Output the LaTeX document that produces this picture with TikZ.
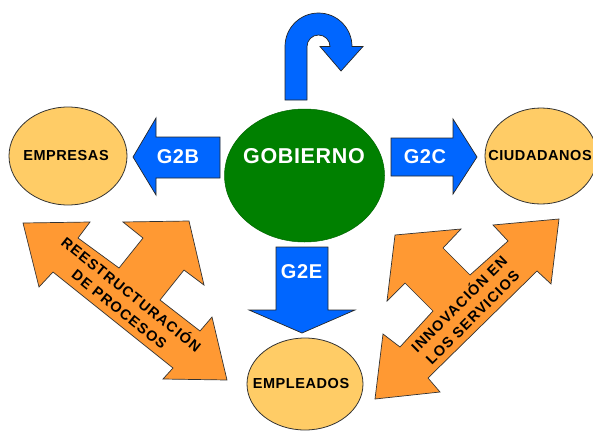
\documentclass[tikz,border=0pt]{standalone}
\usepackage{fontspec}
\setmainfont{Liberation Sans}
\newfontfamily\spacedA[LetterSpace=4]{Liberation Sans}
\newfontfamily\spacedB[LetterSpace=8]{Liberation Sans}
\newfontfamily\spacedC[LetterSpace=3]{Liberation Sans}
\usetikzlibrary{shapes.geometric}
\begin{document}
\begin{tikzpicture}[x=1pt,y=-1pt,
  ov/.style={ellipse, draw=black!80, line width=0.8pt, fill=ovfill, inner sep=0pt},
  blk/.style={font=\spacedA\bfseries\fontsize{14.5}{16}\selectfont, text=black},
  barrow/.style={draw=black!85, line width=0.7pt, fill=arblue, line join=miter},
  oarrow/.style={draw=black!80, line width=0.7pt, fill=arorange, line join=miter},
  wlab/.style={font=\spacedC\bfseries\fontsize{20}{22}\selectfont, text=white},
  dlab/.style={font=\spacedB\bfseries\fontsize{14.5}{19}\selectfont, text=black, align=center}]
\definecolor{ovfill}{RGB}{255,204,102}
\definecolor{arblue}{RGB}{0,102,255}
\definecolor{arorange}{RGB}{255,153,51}
\definecolor{gov}{RGB}{0,128,0}
\useasboundingbox (0,0) rectangle (593,431);
% ellipses
\node[ov, minimum width=118pt, minimum height=98pt] (emp) at (68,156) {};
\node[blk] at (66,156) (emptxt) {EMPRESAS};
\node[ov, minimum width=112pt, minimum height=96pt] (ciu) at (541,156) {};
\node[blk] at (540,156) (ciutxt) {CIUDADANOS};
\node[ov, minimum width=116pt, minimum height=92pt] (empl) at (305,384) {};
\node[blk] at (301,384) (empltxt) {EMPLEADOS};
\node[ellipse, fill=gov, draw=gov!80!black, line width=0.5pt, minimum width=160pt, minimum height=133pt, inner sep=0pt] (gob) at (304.5,175.5) {};
\node[font=\spacedC\bfseries\fontsize{21.5}{23}\selectfont, text=white] at (304,156.5) (gobtxt) {GOBIERNO};
% U-turn arrow
\draw[barrow] (285,100) -- (285,46.5) arc[start angle=180, end angle=360, radius=33.5]
  -- (363,46.5) -- (341,71) -- (320,46.5) -- (330,46.5)
  arc[start angle=360, end angle=180, radius=11.5] -- (307,100) -- cycle;
% G2B
\draw[barrow] (133,157) -- (156,118) -- (156,137) -- (220,137) -- (220,178) -- (156,178) -- (156,195) -- cycle;
\node[wlab] at (178,157) (g2b) {G2B};
% G2C
\draw[barrow] (391,138) -- (453,138) -- (453,119) -- (477,157) -- (453,194) -- (453,176) -- (391,176) -- cycle;
\node[wlab] at (425,157) (g2c) {G2C};
% G2E
\draw[barrow] (276,247) -- (328,247) -- (328,310) -- (355,310) -- (302,333) -- (249,310) -- (276,310) -- cycle;
\node[wlab] at (301.5,272) (g2e) {G2E};
% left orange arrow
\draw[oarrow] (23,223) -- (90,222) -- (78,238) -- (119,268) -- (143,238) -- (123,222)
  -- (189,221) -- (204,285) -- (184,270) -- (160,300) -- (200,331) -- (212,317)
  -- (227,380) -- (163,379) -- (173,368) -- (53,272) -- (39,287) -- cycle;
\node[dlab, rotate=-38.7] at (126,301) (reest) {REESTRUCTURACIÓN\\DE PROCESOS};
% right orange arrow
\draw[oarrow] (375,399) -- (383,334) -- (400,347) -- (433,311) -- (405,283) -- (387,301)
  -- (395,235) -- (461,229) -- (443,248) -- (470,275) -- (508,241) -- (493,225)
  -- (559,219) -- (551,284) -- (537,271) -- (428,378) -- (440,392) -- cycle;
\node[dlab, rotate=45] at (465,310) (innov) {INNOVACIÓN EN\\LOS SERVICIOS};
\end{tikzpicture}
\end{document}
